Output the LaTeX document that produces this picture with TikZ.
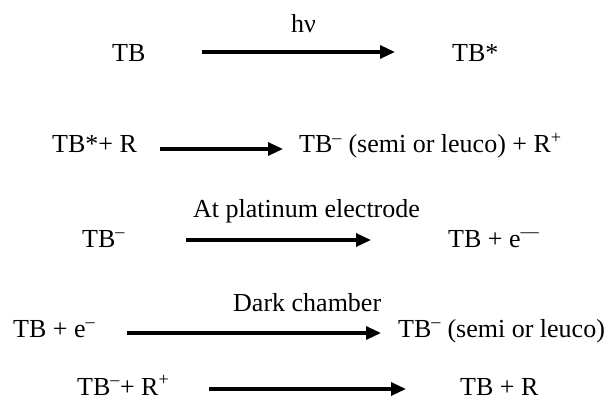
\documentclass[tikz,border=0pt]{standalone}
\usepackage{fontspec}
\setmainfont{Liberation Serif}
\usetikzlibrary{arrows.meta}
\newcommand{\up}[1]{\textsuperscript{#1}}
\begin{document}
\begin{tikzpicture}[x=1pt,y=-1pt,
  chem/.style={anchor=base west,inner sep=0pt,font=\fontsize{26}{30}\selectfont},
  react/.style={line width=3.2pt,-{Triangle[length=15pt,width=13pt]}}]
\useasboundingbox (0,0) rectangle (608,401);

% photo-excitation
\node[chem] (tb1) at (112,62) {TB};
\node[chem] (hv) at (291,33) {hν};
\node[chem] (tbx1) at (452,62) {TB*};
\coordinate (a1s) at (202,52);
\coordinate (a1e) at (395,52);
\draw[react] (a1s) -- (a1e);

% electron transfer from the reductant
\node[chem] (l2) at (52,153) {TB*+ R};
\node[chem] (r2) at (299,153) {TB\up{–} (semi or leuco) + R\up{+}};
\coordinate (a2s) at (160,149);
\coordinate (a2e) at (283,149);
\draw[react] (a2s) -- (a2e);

% oxidation at the electrode
\node[chem] (c3) at (193,217) {At platinum electrode};
\node[chem] (l3) at (82,247) {TB\up{–}};
\node[chem] (r3) at (448,247) {TB + e\up{—}};
\coordinate (a3s) at (186,240);
\coordinate (a3e) at (371,240);
\draw[react] (a3s) -- (a3e);

% dark chamber reduction
\node[chem] (c4) at (233,311) {Dark chamber};
\node[chem] (l4) at (13,337) {TB + e\up{–}};
\node[chem] (r4) at (398,337) {TB\up{–} (semi or leuco)};
\coordinate (a4s) at (127,333);
\coordinate (a4e) at (381,333);
\draw[react] (a4s) -- (a4e);

% regeneration
\node[chem] (l5) at (77,395) {TB\up{–}+ R\up{+}};
\node[chem] (r5) at (460,395) {TB + R};
\coordinate (a5s) at (209,389);
\coordinate (a5e) at (406,389);
\draw[react] (a5s) -- (a5e);
\end{tikzpicture}
\end{document}
